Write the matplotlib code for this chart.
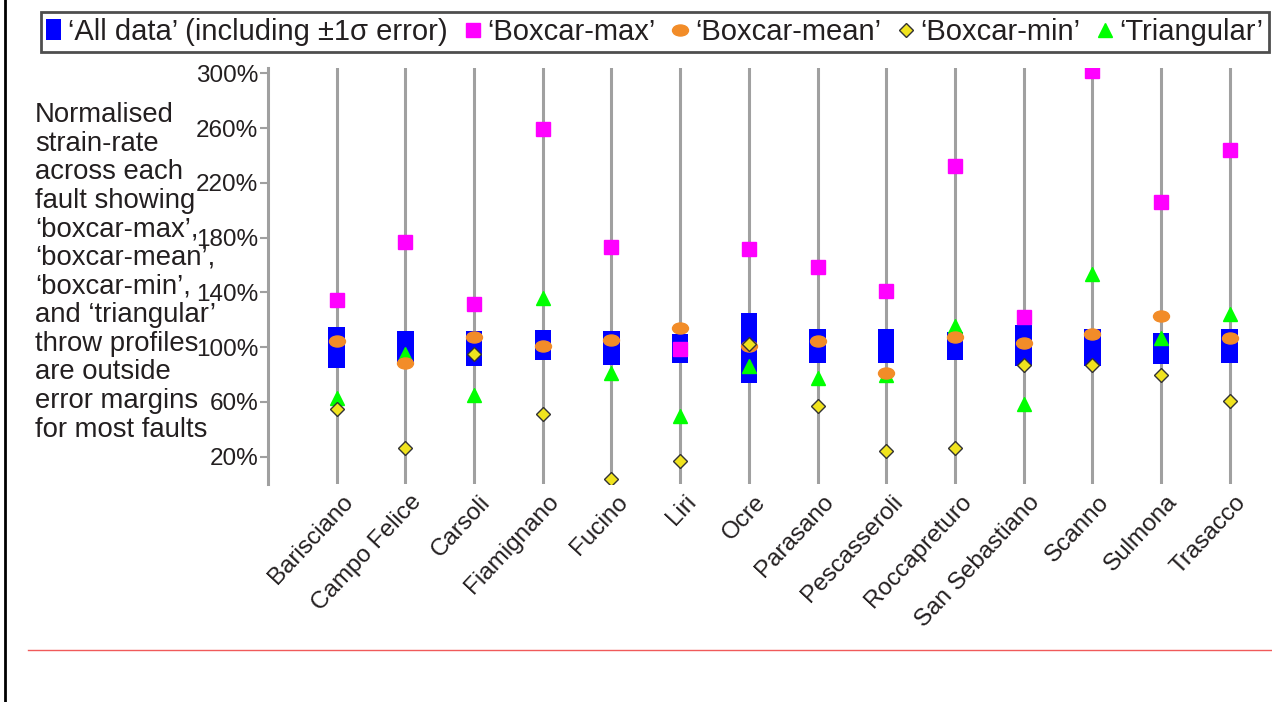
import numpy as np
import matplotlib
matplotlib.use("Agg")
import matplotlib.pyplot as plt
from matplotlib.path import Path
from matplotlib.transforms import Affine2D, ScaledTranslation
from matplotlib.lines import Line2D
from matplotlib.patches import Patch

plt.rcParams['font.family'] = ['Liberation Sans', 'DejaVu Sans']

# ==============================
# DATA (percent of normalised strain-rate)
# ==============================
faults = ["Barisciano", "Campo Felice", "Carsoli", "Fiamignano", "Fucino", "Liri",
          "Ocre", "Parasano", "Pescasseroli", "Roccapreturo", "San Sebastiano",
          "Scanno", "Sulmona", "Trasacco"]

all_low = [84.6, 87.3, 86.1, 90.5, 86.8, 88.3, 73.6, 88.3, 88.3, 90.3, 86.1, 86.1, 87.5, 88.3]
all_high = [114.7, 111.5, 111.5, 112.2, 111.5, 109.8, 125.2, 113.0, 113.0, 110.8, 115.9, 113.0, 110.0, 113.0]
boxcar_max = [134.2, 176.9, 131.3, 259.5, 173.0, 98.5, 171.8, 158.6, 141.0, 232.4, 122.0, 302.0, 206.0, 244.3]
boxcar_mean = [104.4, 88.3, 107.6, 100.5, 104.9, 113.9, 100.7, 104.2, 81.0, 107.6, 102.9, 109.3, 122.7, 106.9]
boxcar_min = [54.6, 26.0, 94.9, 50.9, 3.8, 16.5, 102.5, 56.8, 24.1, 26.0, 87.1, 87.1, 79.5, 60.4]
triangular = [62.9, 95.1, 65.1, 136.2, 81.0, 50.0, 85.9, 77.3, 80.0, 115.4, 58.5, 153.3, 106.4, 124.5]

yticks = [20, 60, 100, 140, 180, 220, 260, 300]

note = ("Normalised\nstrain-rate\nacross each\nfault showing\n\u2018boxcar-max\u2019,\n"
        "\u2018boxcar-mean\u2019,\n\u2018boxcar-min\u2019,\nand \u2018triangular\u2019\n"
        "throw profiles\nare outside\nerror margins\nfor most faults")

# ==============================
# STYLE
# ==============================
c_blue = "#0000FF"
c_mag = "#FF00FF"
c_orange = "#F28C28"
c_yellow = "#F0E31E"
c_green = "#00FF00"
c_grey = "#A0A0A0"
c_text = "#231F20"

ellipse = Path.unit_circle().transformed(Affine2D().scale(1.45, 1.0))

fig = plt.figure(figsize=(12.72, 7.02), dpi=100)
ax = fig.add_axes([268 / 1272, 1 - 484 / 702, 996 / 1272, 416 / 702])

x = np.arange(1, len(faults) + 1)

for xi in x:
    ax.axvline(xi, color=c_grey, lw=2.2, zorder=1)

lo = np.array(all_low)
hi = np.array(all_high)
ax.bar(x, hi - lo, bottom=lo, width=0.24, color=c_blue, zorder=2)

ax.plot(x, triangular, ls="none", marker="^", ms=10, color=c_green, zorder=3)
ax.plot(x, boxcar_mean, ls="none", marker=ellipse, ms=11.5, color=c_orange, zorder=4)
ax.plot(x, boxcar_max, ls="none", marker="s", ms=10, color=c_mag, zorder=5)
ax.plot(x, boxcar_min, ls="none", marker="D", ms=7.5, mfc=c_yellow, mec="#333333", mew=1,
        zorder=6)

ax.set_xlim(0, 14.5)
ax.set_ylim(0, 304)
ax.set_xticks(x)
ax.set_xticklabels(faults, rotation=47, ha="right", va="top", fontsize=17.5, color=c_text)
ax.set_yticks(yticks)
ax.set_yticklabels([f"{v}%" for v in yticks], fontsize=17.5, color=c_text)
ax.tick_params(axis="x", length=0, pad=5)
ax.tick_params(axis="y", length=6, width=1.5, color=c_grey, pad=1)

# nudge the slanted fault names to the right of their lines
shift = ScaledTranslation(0.21, 0, fig.dpi_scale_trans)
for lab in ax.get_xticklabels():
    lab.set_transform(lab.get_transform() + shift)

for s in ["top", "right", "bottom"]:
    ax.spines[s].set_visible(False)
ax.spines["left"].set_color(c_grey)
ax.spines["left"].set_linewidth(2.2)

fig.text(35 / 1272, 1 - 102 / 702, note, ha="left", va="top", fontsize=19.8,
         color=c_text, linespacing=1.13)

# ==============================
# LEGEND
# ==============================
handles = [
    Patch(facecolor=c_blue, edgecolor="none"),
    Line2D([], [], ls="none", marker="s", ms=10, color=c_mag),
    Line2D([], [], ls="none", marker=ellipse, ms=11.5, color=c_orange),
    Line2D([], [], ls="none", marker="D", ms=7.5, mfc=c_yellow, mec="#333333", mew=1),
    Line2D([], [], ls="none", marker="^", ms=10, color=c_green),
]
labels = ["\u2018All data\u2019 (including \u00b11\u03c3 error)", "\u2018Boxcar-max\u2019",
          "\u2018Boxcar-mean\u2019", "\u2018Boxcar-min\u2019", "\u2018Triangular\u2019"]
leg = fig.legend(handles, labels, loc="upper center", bbox_to_anchor=(655 / 1272, 1 - 12 / 702),
                 ncol=5, fontsize=21, frameon=True, fancybox=False, handlelength=0.5,
                 handleheight=0.7, handletextpad=0.25, columnspacing=0.6, borderpad=0.2,
                 borderaxespad=0)
leg.get_frame().set_edgecolor("#222222")
leg.get_frame().set_linewidth(2)
for t in leg.get_texts():
    t.set_color(c_text)

# page edge and rule lines from the source document
fig.add_artist(Line2D([5 / 1272, 5 / 1272], [0, 1], color="black", lw=2))
fig.add_artist(Line2D([28 / 1272, 1], [1 - 650 / 702, 1 - 650 / 702], color="#F05A5A", lw=1))

fig.savefig("out.png", dpi=100)
